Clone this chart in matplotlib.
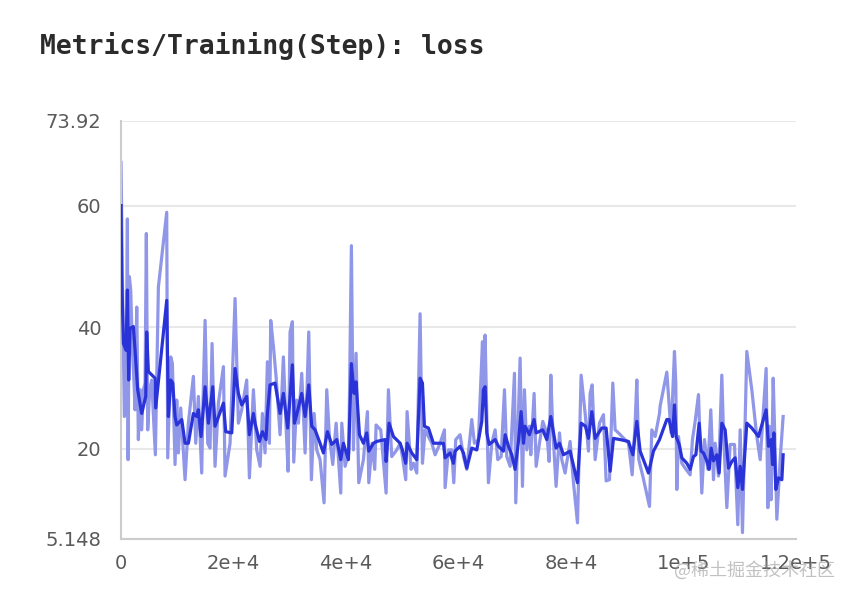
import matplotlib
matplotlib.use("Agg")
import matplotlib.pyplot as plt

# valeurs (step, loss brute)
raw_steps = [0, 240, 590, 890, 1130, 1250, 1480, 1720, 2020, 2310, 2490, 2790, 3080, 3380, 3670, 3970,
             4270, 4500, 4740, 5100, 5450, 6100, 6640, 8120, 8300, 8830, 9130, 9600, 9900, 10190, 10610,
             11380, 11970, 12860, 13280, 13750, 14340, 14580, 14940, 15410, 15820, 16180, 16710, 17310,
             18200, 18490, 19380, 20270, 20860, 21450, 22340, 22820, 23530,
             24120, 24720, 25130, 25600, 26020, 26370, 26610, 27090, 27560, 28270, 28860, 29340, 29690,
             30050, 30460, 30700, 31230, 31530, 32120, 32720, 33370, 33840, 34320, 34790, 35380, 36090,
             36570, 37040, 37640, 38230, 39060, 39240, 39830, 40480, 40950, 41310, 41780, 42260, 43090,
             43800, 44040, 44630, 45100, 45340, 46170, 47120, 47530,
             48120, 49010, 49610, 50020, 50610, 50850, 51560, 51980, 52570, 53160, 53580, 54050, 54640,
             55240, 55830, 56720, 57490, 57610, 58200, 58790, 59150, 59500, 60270, 60870, 61460, 62350,
             62820, 63530, 64250, 64420, 64720, 65020, 65310, 65910, 66500, 66970, 67570, 68160, 68570,
             69170, 69940, 70170, 70940, 71360, 71710,
             72130, 72600, 72840, 73430, 73790, 74380, 74970, 75680, 76100, 76400, 76750, 77340, 77940,
             78350, 78940, 79830, 80430, 81140, 81790, 82500, 83090, 83390, 83750, 84280, 85050, 85760,
             86230, 86830, 87420, 87830, 88430, 90210, 90860, 91390, 91690, 92040, 92750, 93940, 94350,
             94950, 95720,
             95830, 97020, 97790, 98380, 98620, 98800, 99090, 99690, 100280, 101170, 101580, 102060,
             102650, 103240, 103720, 104310, 104840, 105320, 105610, 106210, 106800, 107100, 107690,
             108280, 109050, 109640, 110060, 110470, 110950, 111240, 112130, 113020, 113620, 114680,
             114980, 115220, 115570, 115930, 116280, 116580, 117170, 117700]
raw_loss = [67.1, 48.3, 25.3, 26.4, 57.8, 18.2, 48.3, 46.1, 36.2, 30.8, 26.4, 43.3, 21.5, 29.7, 23.1, 29.7,
            30.8, 55.4, 23.1, 29.7, 31.3, 19.0, 46.6, 58.9, 18.5, 35.1, 34.0, 17.4, 28.0, 19.3, 26.7,
            14.9, 24.2, 31.9, 20.9, 28.6, 16.0, 28.0, 41.1, 20.9, 20.1, 37.3, 17.1, 27.5,
            33.5, 15.5, 20.9, 44.7, 24.2, 26.4, 31.3, 15.2, 29.7,
            19.8, 17.1, 25.8, 19.3, 34.3, 20.9, 41.1, 36.8, 31.9, 22.3, 35.1, 23.7, 16.3,
            39.2, 40.9, 17.8, 28.0, 24.2, 32.4, 19.3, 39.2, 14.9, 25.8, 19.8, 18.2, 11.1,
            29.7, 22.0, 17.4, 24.2, 12.7, 24.2, 17.1, 19.3, 53.4, 19.8, 35.7, 14.4, 18.2,
            26.1, 14.4, 20.9, 16.6, 23.9, 23.1, 12.7, 29.7,
            18.7, 19.8, 20.9, 18.7, 14.9, 26.1, 16.6, 17.6, 16.0, 42.2, 17.6, 23.1, 22.0,
            20.9, 19.0, 20.9, 23.1, 13.6, 19.8, 19.8, 14.4, 21.5, 22.3, 18.7, 16.6, 24.8,
            20.9, 21.5, 37.6, 29.7, 38.7, 25.3, 14.4, 20.9, 23.1, 18.2, 18.7, 29.7, 18.7,
            17.1, 32.4, 11.1, 34.9, 13.8, 29.7,
            19.8, 23.7, 19.0, 29.1, 17.1, 20.9, 24.5, 22.6, 17.9, 32.1, 23.1, 13.8, 22.6,
            18.2, 16.0, 21.2, 14.4, 7.8, 32.1, 25.8, 19.6, 29.1, 30.5, 18.2, 24.2, 25.6,
            14.7, 14.9, 30.8, 23.1, 22.6, 20.9, 15.7, 24.2, 31.3, 18.2, 15.5, 10.5, 23.1,
            22.0, 25.8,
            27.0, 32.6, 22.6, 36.0, 30.8, 13.3, 22.0, 17.6, 16.8, 15.7, 21.5, 24.5,
            28.9, 12.7, 21.5, 16.6, 26.4, 14.9, 20.9, 15.5, 32.1, 22.6, 10.3,
            20.7, 20.7, 7.5, 23.1, 6.2, 24.8, 36.0, 29.7, 22.0, 18.2, 33.2,
            10.3, 23.7, 11.6, 31.6, 19.8, 8.4, 18.2, 25.3]

# courbe lissée (step, loss lissée)
smooth_steps = [0, 120, 420, 890, 1130, 1360, 1600, 2190, 2490, 2960, 3670, 4390, 4560, 4860, 6050, 6160,
                8120, 8420, 8830, 9190, 9600, 9900, 10790, 11380, 11970, 12860, 13450, 13750, 14220,
                14940, 15530, 16300, 16710, 18200, 18610, 19680, 20270, 20860, 21450, 22340, 22820,
                23530, 23820, 24600, 25130, 25780, 26020, 26490, 27380, 28270, 28860, 29630, 30460,
                30820, 31230, 32120, 32720, 33370, 33900, 34490, 35380, 35980, 36690, 37460, 38350,
                39060, 39530, 40420, 40950, 41430, 41780, 42380, 43090, 43680, 44040, 44870, 45460,
                46940, 47120, 47650, 48420, 49610, 50020, 50610, 50850, 51680, 52570, 53160, 53580,
                53930, 54640, 55530, 56420, 57310, 57610, 58500, 59090, 59390, 60270, 60870, 61460,
                62350, 63240, 64130, 64420, 64720, 65020, 65430, 66500, 67090, 67980, 68280, 68870,
                69460, 70050, 70650, 71120, 71540, 71830, 72600, 73430, 73790, 74970, 75680, 76400,
                77340, 77940, 78650, 79830, 81140, 81790, 82560, 83090, 83690, 84280, 85460, 86230,
                86950, 87540, 88720, 90210, 90980, 91690, 92280, 93760, 94650, 95720, 97020, 97430,
                98030, 98380, 98680, 99210, 99690, 100580, 101170, 101760, 102180, 102770, 103120,
                103540, 104130, 104550, 104900, 105320, 105910, 106320, 106800, 107390, 107980, 108580,
                109170, 109640, 110060, 110470, 111240, 112130, 113320, 114680, 115100, 115570, 115810,
                116050, 116400, 116880, 117470, 117700]
smooth_loss = [60.0, 48.3, 37.3, 36.2, 46.1, 31.3, 39.8, 40.1, 36.2, 29.7, 25.8, 28.6, 39.2, 32.7, 31.6, 26.7,
               44.4, 25.3, 31.3, 30.8, 25.3, 23.9, 24.8, 20.9, 20.9, 25.8, 25.3, 26.4, 22.0,
               30.2, 24.2, 30.2, 23.7, 27.5, 22.8, 22.6, 33.2, 29.1, 27.2, 28.6, 22.3,
               25.8, 24.2, 21.2, 22.8, 21.5, 25.8, 30.5, 30.8, 25.8, 29.1, 23.4, 33.8,
               24.2, 25.6, 29.1, 25.3, 30.5, 23.7, 23.1, 20.9, 19.3, 22.8, 20.7, 21.5,
               18.2, 20.9, 18.2, 34.0, 29.1, 31.0, 22.3, 20.9, 22.6, 19.6, 20.9, 21.2,
               21.5, 17.9, 24.2, 22.0, 20.9, 19.8, 17.6, 20.9, 19.3, 18.2, 31.6, 30.8,
               23.7, 23.4, 20.9, 20.9, 20.9, 18.5, 19.3, 17.6, 19.6, 20.4, 19.3, 16.8,
               20.1, 19.8, 24.5, 29.7, 30.2, 22.6, 20.7, 21.5, 20.4, 19.6, 22.3, 20.4,
               19.0, 16.6, 21.2, 26.1, 20.9, 23.7, 22.3, 24.8, 22.6, 23.1, 21.5, 25.3,
               20.1, 20.9, 19.0, 19.6, 14.4, 24.2, 23.7, 21.7, 26.1, 21.7, 23.4, 23.4,
               16.3, 21.7, 21.5, 21.2, 19.0, 24.5, 19.6, 16.0, 19.6, 21.5, 24.8, 24.8,
               22.0, 27.2, 22.0, 20.7, 18.5, 17.6, 16.6, 18.7, 19.0, 24.2, 19.6,
               19.3, 18.0, 16.6, 20.1, 18.0, 19.0, 16.0, 24.2, 23.1, 16.8, 17.9,
               18.5, 13.6, 17.1, 13.3, 24.2, 23.4, 22.0, 26.4, 20.4, 21.5, 17.4,
               22.6, 13.3, 15.2, 14.9, 19.0]

y_ticks = [5.148, 20, 40, 60, 73.92]
y_labels = ["5.148", "20", "40", "60", "73.92"]
x_ticks = [0, 20000, 40000, 60000, 80000, 100000, 120000]
x_labels = ["0", "2e+4", "4e+4", "6e+4", "8e+4", "1e+5", "1.2e+5"]

fig = plt.figure(figsize=(8.56, 5.98), dpi=100)
ax = fig.add_axes([0.1414, 0.0987, 0.7886, 0.699])

# courbe brute puis courbe lissée
ax.plot(raw_steps, raw_loss, color="#9096e8", linewidth=2.3, solid_joinstyle="round", zorder=2)
ax.plot(smooth_steps, smooth_loss, color="#2a33d8", linewidth=2.3, solid_joinstyle="round", zorder=3)

ax.set_xlim(0, 120000)
ax.set_ylim(5.148, 73.92)
ax.set_yticks(y_ticks)
ax.set_yticklabels(y_labels)
ax.set_xticks(x_ticks)
ax.set_xticklabels(x_labels)
ax.tick_params(axis="both", length=0, labelsize=14, labelcolor="#5a5a5a")
ax.tick_params(axis="y", pad=14)
ax.tick_params(axis="x", pad=11)

ax.grid(axis="y", color="#e8e8e8", linewidth=1.5, zorder=0)
for s in ["top", "right"]:
    ax.spines[s].set_visible(False)
for s in ["left", "bottom"]:
    ax.spines[s].set_color("#cccccc")
    ax.spines[s].set_linewidth(1.5)

fig.text(0.047, 0.923, "Metrics/Training(Step): loss", fontsize=19, fontweight="bold",
         family="DejaVu Sans Mono", color="#2b2b2b", va="center", ha="left")

# filigrane
fig.text(0.975, 0.047, "@稀土掘金技术社区", fontsize=13, color="#999999", alpha=0.6,
         family=["Noto Sans CJK SC", "DejaVu Sans"], ha="right", va="center")

plt.savefig("out.png", dpi=100)
